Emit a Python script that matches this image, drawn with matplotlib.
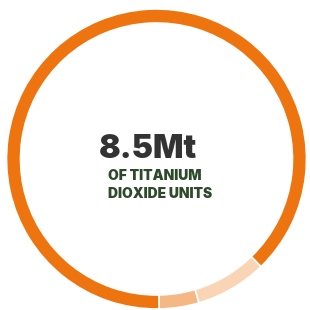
import matplotlib.pyplot as plt

# share of the ring, starting at the bottom and going counterclockwise
segments = ['minor A', 'minor B', 'main']
shares = [4.3, 7.7, 88.0]
colors = ['#F5B783', '#FAD5B5', '#EE740F']

headline = '8.5Mt'
subtitle = 'OF TITANIUM\nDIOXIDE UNITS'

fig = plt.figure(figsize=(3.1, 3.1), dpi=100)
ax = fig.add_axes([0, 0, 1, 1])

ax.pie(shares, colors=colors, startangle=271, counterclock=True,
       center=(156.5, 151), radius=150,
       wedgeprops=dict(width=14, edgecolor='white', linewidth=1.2))
ax.set_xlim(0, 310)
ax.set_ylim(0, 310)
ax.set_aspect('equal')
ax.axis('off')

ax.text(99, 161, headline, fontsize=23, fontweight=900, color='#333333',
        family=['Inter', 'DejaVu Sans'], ha='left', va='center')
ax.text(108, 125, subtitle, fontsize=10, fontweight=900, color='#2D4A2A',
        family=['Inter', 'DejaVu Sans'], ha='left', va='center', linespacing=1.45)

fig.savefig('out.png', dpi=100)
